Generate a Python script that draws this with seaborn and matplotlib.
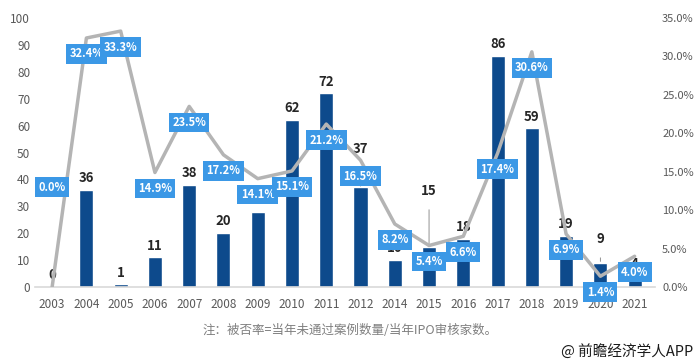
import numpy as np
import pandas as pd
import matplotlib
matplotlib.use("Agg")
import matplotlib.pyplot as plt
import seaborn as sns
from matplotlib.ticker import PercentFormatter

# datos
years = ["2003", "2004", "2005", "2006", "2007", "2008", "2009", "2010", "2011",
         "2012", "2014", "2015", "2016", "2017", "2018", "2019", "2020", "2021"]
rejected = [0, 36, 1, 11, 38, 20, 28, 62, 72, 37, 10, 15, 18, 86, 59, 19, 9, 4]
reject_rate = [0.0, 32.4, 33.3, 14.9, 23.5, 17.2, 14.1, 15.1, 21.2, 16.5,
               8.2, 5.4, 6.6, 17.4, 30.6, 6.9, 1.4, 4.0]

note = "注：被否率=当年未通过案例数量/当年IPO审核家数。"
source = "@ 前瞻经济学人APP"

sns.set_theme(style="white")
plt.rcParams['font.family'] = ['Noto Sans CJK SC', 'DejaVu Sans']

df = pd.DataFrame({"year": years, "rejected": rejected, "rate": reject_rate})

fig = plt.figure(figsize=(7, 3.64), dpi=100)
ax = fig.add_axes([0.05, 0.2115, 0.886, 0.739])

sns.barplot(data=df, x="year", y="rejected", color="#0d4a8c", width=0.41,
            saturation=1, ax=ax, zorder=2)
ax.set_ylim(0, 100)
ax.set_xlim(-0.5, 17.6)
ax.set_yticks(range(0, 101, 10))
ax.set_xlabel("")
ax.set_ylabel("")
for s in ["top", "right", "left"]:
    ax.spines[s].set_visible(False)
ax.spines["bottom"].set_color("#d9d9d9")
ax.spines["bottom"].set_linewidth(1.2)
ax.tick_params(axis="both", length=0, colors="#595959", labelsize=8.5)
ax.tick_params(axis="x", pad=8)

# etiquetas de las barras (algunas desplazadas con linea guia)
# 2009 queda oculto detras del recuadro en el original
lift = {"2012": 28, "2015": 40, "2020": 17}
for i, (yr, v) in enumerate(zip(years, rejected)):
    if yr == "2009":
        continue
    off = lift.get(yr, 8.5)
    arrow = dict(arrowstyle="-", color="#7f7f7f", lw=0.6, shrinkA=6, shrinkB=1) if yr in lift else None
    ax.annotate(str(v), xy=(i, v), xytext=(0, off), textcoords="offset points",
                ha="center", va="center", fontsize=9.5, fontweight="bold",
                color="#262626", arrowprops=arrow, zorder=3)

ax2 = ax.twinx()
ax2.set_position(ax.get_position())
ax2.plot(np.arange(len(years)), df["rate"], color="#b4b4b4", lw=2.5, zorder=4)
ax2.set_ylim(0, 35)
ax2.set_yticks(np.arange(0, 36, 5))
ax2.yaxis.set_major_formatter(PercentFormatter(decimals=1))
for s in ["top", "right", "left", "bottom"]:
    ax2.spines[s].set_visible(False)
ax2.tick_params(axis="y", length=0, colors="#595959", labelsize=8, pad=5)
ax2.grid(False)

for i, r in enumerate(reject_rate):
    off = 72 if i == 0 else -11.5
    ax2.annotate(f"{r:.1f}%", xy=(i, r), xytext=(0, off), textcoords="offset points",
                 ha="center", va="center", fontsize=8, fontweight="bold", color="white",
                 bbox=dict(boxstyle="square,pad=0.3", fc="#3b98e6", ec="none"), zorder=5)

fig.text(0.5, 0.093, note, ha="center", va="center", fontsize=9, color="#7f7f7f")
fig.text(0.99, 0.035, source, ha="right", va="center", fontsize=10.5, color="#1a1a1a")

fig.savefig("out.png", dpi=100)
